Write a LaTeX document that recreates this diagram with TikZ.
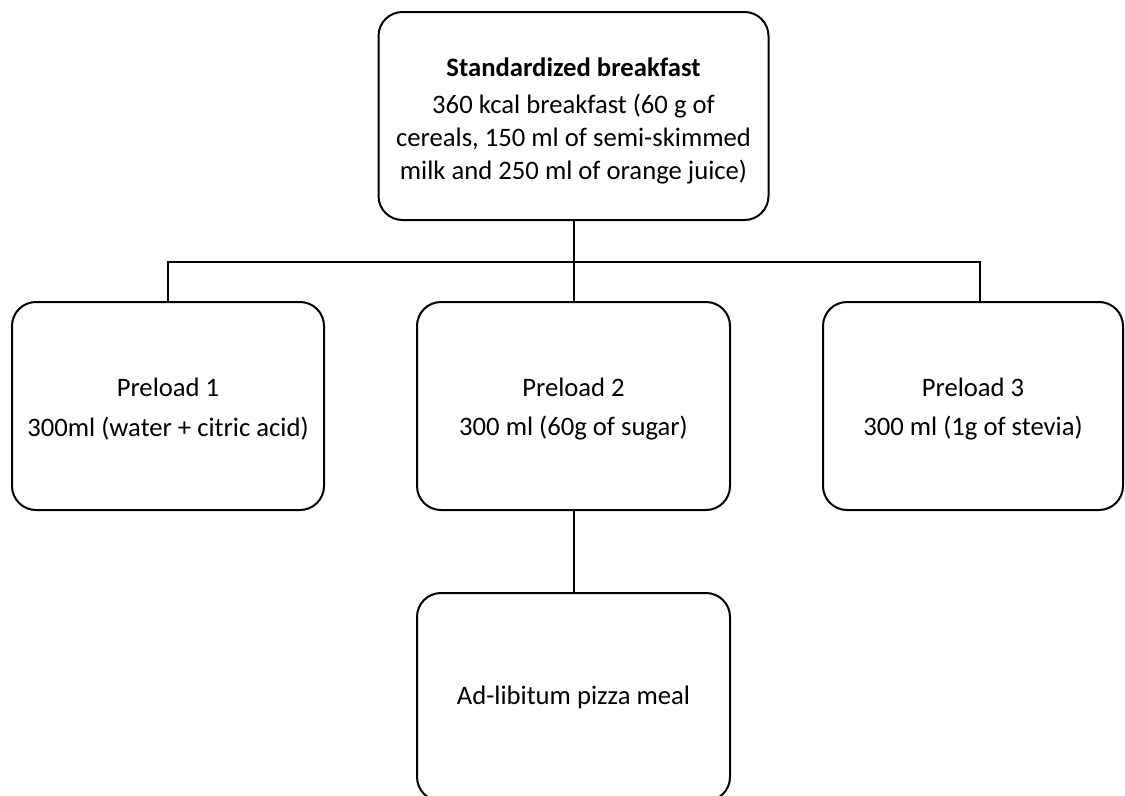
\documentclass[tikz,border=0pt]{standalone}
\usepackage{fontspec}
\setmainfont{Carlito}
\begin{document}
\begin{tikzpicture}[x=0.75pt,y=-0.75pt,
  box/.style={draw, line width=1.5pt, rounded corners=18pt, align=center, inner sep=0pt,
    font=\fontsize{20}{24.75}\selectfont},
  txt/.style={align=center, inner sep=0pt, font=\fontsize{20}{24.75}\selectfont},
  link/.style={line width=1.5pt}]
\useasboundingbox (0,0) rectangle (1125,796);
\clip (0,0) rectangle (1125,796);
\node[box, minimum width=292.5pt, minimum height=156pt] (top) at (573.5,116) {};
\node[txt] (toptext) at (573.5,121)
  {\textbf{Standardized breakfast}\\[3.5pt]
   360 kcal breakfast (60 g of\\
   cereals, 150 ml of semi-skimmed\\
   milk and 250 ml of orange juice)};
\node[box, minimum width=234pt, minimum height=156pt] (p1) at (168,406) {};
\node[txt] (p1text) at (168,409) {Preload 1\\[5pt]300ml (water + citric acid)};
\node[box, minimum width=234.75pt, minimum height=156pt] (p2) at (573.5,406) {};
\node[txt] (p2text) at (573.5,409) {Preload 2\\[5pt]300 ml (60g of sugar)};
\node[box, minimum width=225pt, minimum height=156pt] (p3) at (973,406) {};
\node[txt] (p3text) at (973,409) {Preload 3\\[5pt]300 ml (1g of stevia)};
\node[box, minimum width=234.75pt, minimum height=156pt] (pizza) at (573.5,697)
  {Ad-libitum pizza meal};
\coordinate (bar) at (573.5,262);
\draw[link] (top.south) -- (bar);
\draw[link] (bar) -| (p1.north);
\draw[link] (bar) -| ([xshift=5]p3.north);
\draw[link] (bar) -- (p2.north);
\draw[link] (p2.south) -- (pizza.north);
\end{tikzpicture}
\end{document}
